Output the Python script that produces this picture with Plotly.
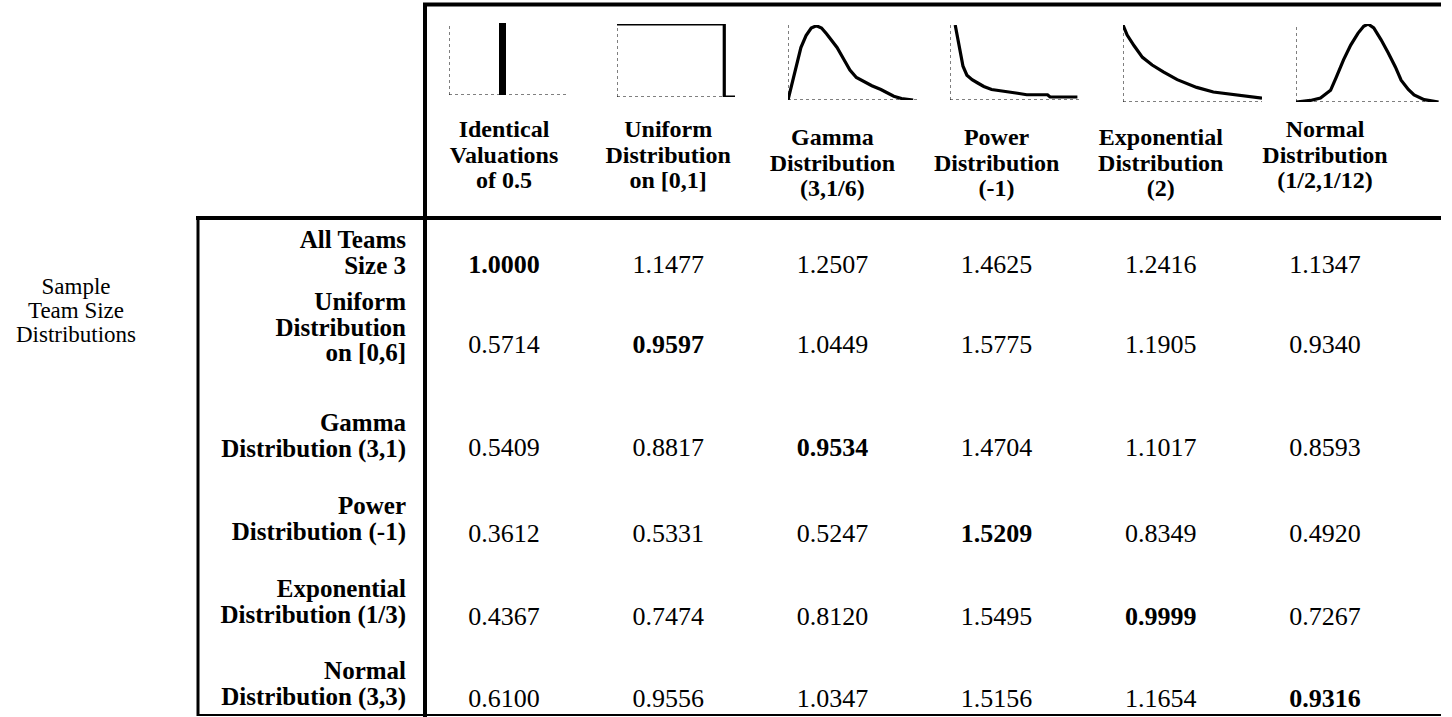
import plotly.graph_objects as go

W, H = 1452, 717
FONT = "Liberation Serif, Times New Roman, Tinos, DejaVu Serif, serif"

# ---------------- data ----------------
col_labels = [
    "Identical<br>Valuations<br>of 0.5",
    "Uniform<br>Distribution<br>on [0,1]",
    "Gamma<br>Distribution<br>(3,1/6)",
    "Power<br>Distribution<br>(-1)",
    "Exponential<br>Distribution<br>(2)",
    "Normal<br>Distribution<br>(1/2,1/12)",
]
row_labels = [
    "All Teams<br>Size 3",
    "Uniform<br>Distribution<br>on [0,6]",
    "Gamma<br>Distribution (3,1)",
    "Power<br>Distribution (-1)",
    "Exponential<br>Distribution (1/3)",
    "Normal<br>Distribution (3,3)",
]
side_label = "Sample<br>Team Size<br>Distributions"

row_all_size3 = [1.0000, 1.1477, 1.2507, 1.4625, 1.2416, 1.1347]
row_uniform06 = [0.5714, 0.9597, 1.0449, 1.5775, 1.1905, 0.9340]
row_gamma31 = [0.5409, 0.8817, 0.9534, 1.4704, 1.1017, 0.8593]
row_power_m1 = [0.3612, 0.5331, 0.5247, 1.5209, 0.8349, 0.4920]
row_exp13 = [0.4367, 0.7474, 0.8120, 1.5495, 0.9999, 0.7267]
row_normal33 = [0.6100, 0.9556, 1.0347, 1.5156, 1.1654, 0.9316]
values = [row_all_size3, row_uniform06, row_gamma31, row_power_m1, row_exp13, row_normal33]

# icon curves (normalised shapes)
ident_x = [0.5]
ident_y = [1.0]
unif_x = [0, 1.0, 1.0, 1.1]
unif_y = [1, 1, 0, 0]
gamma_x = [0, .03, .06, .10, .14, .18, .22, .26, .30, .34, .38, .43, .48, .53, .59, .65, .72, .78, .82, .88, .97]
gamma_y = [0, .22, .42, .70, .86, .96, .99, .96, .88, .79, .70, .55, .40, .30, .24, .19, .14, .09, .05, .02, 0]
power_x = [0.04, 0.06, 0.077, 0.10, 0.13, 0.17, 0.21, 0.26, 0.32, 0.38, 0.44, 0.52, 0.59, 0.67, 0.75, 0.77, 0.85, 0.98]
power_y = [1.0, 0.80, 0.63, 0.45, 0.33, 0.27, 0.23, 0.18, 0.14, 0.12, 0.11, 0.09, 0.07, 0.07, 0.07, 0.04, 0.04, 0.04]
expo_x = [0, 0.03, 0.08, 0.14, 0.21, 0.29, 0.39, 0.46, 0.53, 0.65, 0.77, 0.88, 1.0]
expo_y = [1.0, 0.87, 0.73, 0.58, 0.48, 0.39, 0.29, 0.24, 0.19, 0.13, 0.10, 0.07, 0.05]
norm_x = [0, 0.10, 0.17, 0.24, 0.28, 0.33, 0.38, 0.43, 0.47, 0.50, 0.54, 0.59, 0.64, 0.69, 0.73, 0.78, 0.82, 0.89, 0.99]
norm_y = [0, 0.02, 0.05, 0.15, 0.32, 0.54, 0.73, 0.88, 0.97, 1.0, 0.95, 0.80, 0.63, 0.45, 0.28, 0.16, 0.09, 0.03, 0]

# ---------------- layout constants (pixels) ----------------
COL_X0, COL_STEP = 504, 164.2
ROW_Y = [266, 346, 449, 535, 618, 700]          # number rows
LABEL_TOP_Y = [242, 304, 425, 508, 591, 673]    # first line of each row label
HEADER_TOP_Y = [131, 131, 139, 139, 139, 131]   # first line of each column header
LH = 25.5
HDR_SIZE, LAB_SIZE, NUM_SIZE, SIDE_SIZE = 24, 25, 26, 23
LABEL_RIGHT = 406

col_x = [COL_X0 + COL_STEP * i for i in range(len(col_labels))]

fig = go.Figure()

def text_lines(xs, tops, labels, size, pos, bold=True, lh=LH):
    px, py, pt = [], [], []
    for x, top, lab in zip(xs, tops, labels):
        for j, line in enumerate(lab.split("<br>")):
            px.append(x)
            py.append(top + j * lh)
            pt.append("<b>%s</b>" % line if bold else line)
    fig.add_trace(go.Scatter(
        x=px, y=py, mode="text", text=pt, textposition=pos,
        textfont=dict(family=FONT, size=size, color="black"),
        hoverinfo="skip", showlegend=False, cliponaxis=False))

# headers, row labels, side label
text_lines(col_x, HEADER_TOP_Y, col_labels, HDR_SIZE, "middle center")
text_lines([LABEL_RIGHT] * len(row_labels), LABEL_TOP_Y, row_labels, LAB_SIZE, "middle left")
text_lines([76], [288], [side_label], SIDE_SIZE, "middle center", bold=False, lh=24)

# table values (diagonal in bold)
cx, cy, ct = [], [], []
for r, row in enumerate(values):
    for c, v in enumerate(row):
        cx.append(col_x[c])
        cy.append(ROW_Y[r])
        s = "%.4f" % v
        ct.append("<b>%s</b>" % s if r == c else s)
fig.add_trace(go.Scatter(
    x=cx, y=cy, mode="text", text=ct, textposition="middle center",
    textfont=dict(family=FONT, size=NUM_SIZE, color="black"),
    hoverinfo="skip", showlegend=False, cliponaxis=False))

# ---------------- icons ----------------
# (left px, right px, baseline px, top px, x max)
icon_boxes = [
    (449, 566, 95, 23, 1.1),
    (617, 735, 97, 24, 1.1),
    (788, 917, 100, 25, 1.0),
    (950, 1080, 100, 25, 1.0),
    (1123, 1262, 102, 25, 1.0),
    (1296, 1440, 102, 24, 1.0),
]
curves = [None, (unif_x, unif_y), (gamma_x, gamma_y), (power_x, power_y),
          (expo_x, expo_y), (norm_x, norm_y)]

layout_axes = {}
shapes = []
for k, (l, r, b, t, xm) in enumerate(icon_boxes):
    n = k + 2
    xa, ya = "x%d" % n, "y%d" % n
    layout_axes["xaxis%d" % n] = dict(domain=[l / W, r / W], range=[0, xm], visible=False,
                                      fixedrange=True, anchor=ya)
    layout_axes["yaxis%d" % n] = dict(domain=[1 - b / H, 1 - t / H], range=[0, 1], visible=False,
                                      fixedrange=True, anchor=xa)
    shapes.append(dict(type="line", xref=xa, yref=ya, x0=0, x1=0, y0=0, y1=1,
                       line=dict(color="black", width=1, dash="dot")))
    shapes.append(dict(type="line", xref=xa, yref=ya, x0=0, x1=xm, y0=0, y1=0,
                       line=dict(color="black", width=1, dash="dot")))
    if k == 0:
        fig.add_trace(go.Bar(x=ident_x, y=ident_y, width=0.066, marker=dict(color="black", line_width=0),
                             xaxis=xa, yaxis=ya, hoverinfo="skip", showlegend=False))
    else:
        xs, ys = curves[k]
        fig.add_trace(go.Scatter(x=xs, y=ys, mode="lines", line=dict(color="black", width=3.2),
                                 xaxis=xa, yaxis=ya, hoverinfo="skip", showlegend=False,
                                 cliponaxis=False))

# ---------------- table rules ----------------
def rule(x0, y0, x1, y1, w):
    return dict(type="line", xref="x", yref="y", x0=x0, y0=y0, x1=x1, y1=y1,
                line=dict(color="black", width=w))

shapes += [
    rule(423, 4.5, 1441, 4.5, 4),
    rule(425, 3, 425, 717, 4),
    rule(196, 218, 1441, 218, 4),
    rule(198, 218, 198, 716, 3),
    rule(197, 715, 1441, 715, 2),
]

fig.update_layout(
    width=W, height=H, margin=dict(l=0, r=0, t=0, b=0),
    paper_bgcolor="white", plot_bgcolor="white",
    xaxis=dict(range=[0, W], visible=False, fixedrange=True),
    yaxis=dict(range=[H, 0], visible=False, fixedrange=True),
    shapes=shapes, bargap=0,
    **layout_axes,
)

fig.write_html("out.html", config={"displayModeBar": False},
               post_script="document.body.style.margin='0px';document.body.style.overflow='hidden';")
